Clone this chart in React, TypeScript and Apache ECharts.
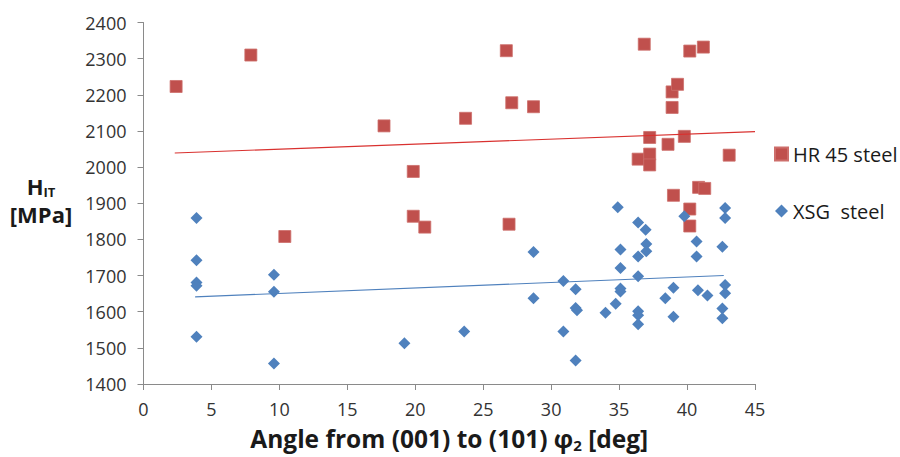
import React, { useEffect, useRef } from "react";
import * as echarts from "echarts";

// HR 45 steel: angle [deg] and indentation hardness H_IT [MPa]
const hrAngle = [2.4, 7.9, 10.4, 17.7, 19.85, 19.85, 20.7, 23.7, 26.7, 26.9, 27.1, 28.7, 36.4, 36.85, 37.25, 37.25, 37.25, 38.6, 38.9, 38.9, 39.3, 39.8, 39.0, 40.2, 40.2, 40.2, 40.85, 41.2, 41.3, 43.1];
const hrHardness = [2223, 2310, 1808, 2114, 1988, 1864, 1834, 2135, 2322, 1842, 2178, 2167, 2022, 2340, 2082, 2036, 2006, 2063, 2208, 2165, 2229, 2085, 1922, 2321, 1884, 1837, 1944, 2332, 1941, 2033];

// XSG steel
const xsgAngle = [3.9, 3.9, 3.9, 3.9, 3.9, 9.6, 9.6, 9.6, 19.2, 23.6, 28.7, 28.7, 30.9, 30.9, 31.8, 31.8, 31.9, 31.8, 34.0, 34.75, 34.9, 35.1, 35.1, 35.1, 35.1, 36.4, 36.95, 37.0, 37.0, 36.4, 36.4, 36.4, 36.4, 36.4, 38.4, 39.0, 39.0, 39.8, 40.7, 40.7, 40.8, 41.5, 42.8, 42.8, 42.6, 42.8, 42.8, 42.6, 42.6];
const xsgHardness = [1859, 1742, 1681, 1672, 1531, 1702, 1655, 1457, 1513, 1545, 1765, 1637, 1685, 1545, 1662, 1610, 1604, 1465, 1597, 1622, 1889, 1772, 1721, 1664, 1656, 1847, 1827, 1787, 1767, 1753, 1698, 1601, 1590, 1565, 1637, 1666, 1586, 1864, 1794, 1753, 1659, 1645, 1887, 1859, 1780, 1674, 1651, 1609, 1582];

// Linear trend lines (end points)
const hrTrendX = [2.3, 45];
const hrTrendY = [2039, 2098];
const xsgTrendX = [3.8, 42.7];
const xsgTrendY = [1641, 1700];

const seriesNames = ["HR 45 steel", "XSG  steel"];
const xMin = 0, xMax = 45, xStep = 5;
const yMin = 1400, yMax = 2400, yStep = 100;

const zip = (a: number[], b: number[]) => a.map((v, i) => [v, b[i]]);

const FONT = "'Open Sans', sans-serif";

export default function App() {
  const ref = useRef<HTMLDivElement>(null);
  useEffect(() => {
    if (!ref.current) return;
    const chart = echarts.init(ref.current, null, { renderer: "svg" });
    chart.setOption({
      animation: false,
      backgroundColor: "#ffffff",
      textStyle: { fontFamily: FONT },
      grid: { left: 143.5, right: 145, top: 22.5, bottom: 72.5, containLabel: false },
      legend: {
        orient: "vertical",
        left: 769,
        top: 139,
        itemWidth: 13,
        itemHeight: 13,
        itemGap: 37,
        data: seriesNames,
        textStyle: { fontFamily: FONT, fontSize: 20, color: "#1a1a1a" },
        selectedMode: false,
      },
      xAxis: {
        type: "value",
        min: xMin,
        max: xMax,
        interval: xStep,
        splitLine: { show: false },
        axisLine: { show: true, onZero: false, lineStyle: { color: "#8a8a8a", width: 1 } },
        axisTick: { show: true, length: 6, lineStyle: { color: "#8a8a8a" } },
        axisLabel: { fontFamily: FONT, fontSize: 18, color: "#333333", margin: 16 },
        name: "{a|Angle from (001) to (101) φ}{b|2}{a| [deg]}",
        nameLocation: "middle",
        nameGap: 40,
        nameTextStyle: {
          rich: {
            a: { fontFamily: FONT, fontSize: 24.5, fontWeight: "bold", color: "#1a1a1a", lineHeight: 28 },
            b: { fontFamily: FONT, fontSize: 15, fontWeight: "bold", color: "#1a1a1a", lineHeight: 14, verticalAlign: "bottom" },
          },
        },
      },
      yAxis: {
        type: "value",
        min: yMin,
        max: yMax,
        interval: yStep,
        splitLine: { show: false },
        axisLine: { show: true, onZero: false, lineStyle: { color: "#8a8a8a", width: 1 } },
        axisTick: { show: true, length: 6, lineStyle: { color: "#8a8a8a" } },
        axisLabel: {
          fontFamily: FONT,
          fontSize: 18,
          color: "#333333",
          margin: 17,
          formatter: (v: number) => String(v),
        },
      },
      graphic: [
        {
          type: "text",
          x: 41,
          y: 174,
          style: {
            text: "{h|H}{s|IT}",
            align: "center",
            verticalAlign: "top",
            rich: {
              h: { fontFamily: FONT, fontSize: 22, fontWeight: "bold", fill: "#1a1a1a", lineHeight: 24 },
              s: { fontFamily: FONT, fontSize: 13, fontWeight: "bold", fill: "#1a1a1a", lineHeight: 14, verticalAlign: "bottom" },
            },
          },
        },
        {
          type: "text",
          x: 41,
          y: 203,
          style: {
            text: "[MPa]",
            align: "center",
            verticalAlign: "top",
            font: `bold 22px ${FONT}`,
            fill: "#1a1a1a",
          },
        },
      ],
      series: [
        {
          name: seriesNames[0],
          type: "scatter",
          symbol: "rect",
          symbolSize: 12,
          itemStyle: { color: "#C0504D", borderColor: "#CD6E6B", borderWidth: 0.8, opacity: 1 },
          data: zip(hrAngle, hrHardness),
          z: 2,
        },
        {
          name: seriesNames[1],
          type: "scatter",
          symbol: "diamond",
          symbolSize: 12,
          itemStyle: { color: "#4F81BD", opacity: 1 },
          data: zip(xsgAngle, xsgHardness),
          z: 3,
        },
        {
          name: "HR trend",
          type: "line",
          showSymbol: false,
          symbol: "none",
          lineStyle: { color: "#D9312F", width: 1.2 },
          data: zip(hrTrendX, hrTrendY),
          z: 4,
          silent: true,
        },
        {
          name: "XSG trend",
          type: "line",
          showSymbol: false,
          symbol: "none",
          lineStyle: { color: "#4F81BD", width: 1.1 },
          data: zip(xsgTrendX, xsgTrendY),
          z: 4,
          silent: true,
        },
      ],
    });
    return () => chart.dispose();
  }, []);
  return (
    <div
      ref={ref}
      style={{ position: "fixed", left: 0, top: 0, width: 900, height: 457, background: "#fff" }}
    />
  );
}
